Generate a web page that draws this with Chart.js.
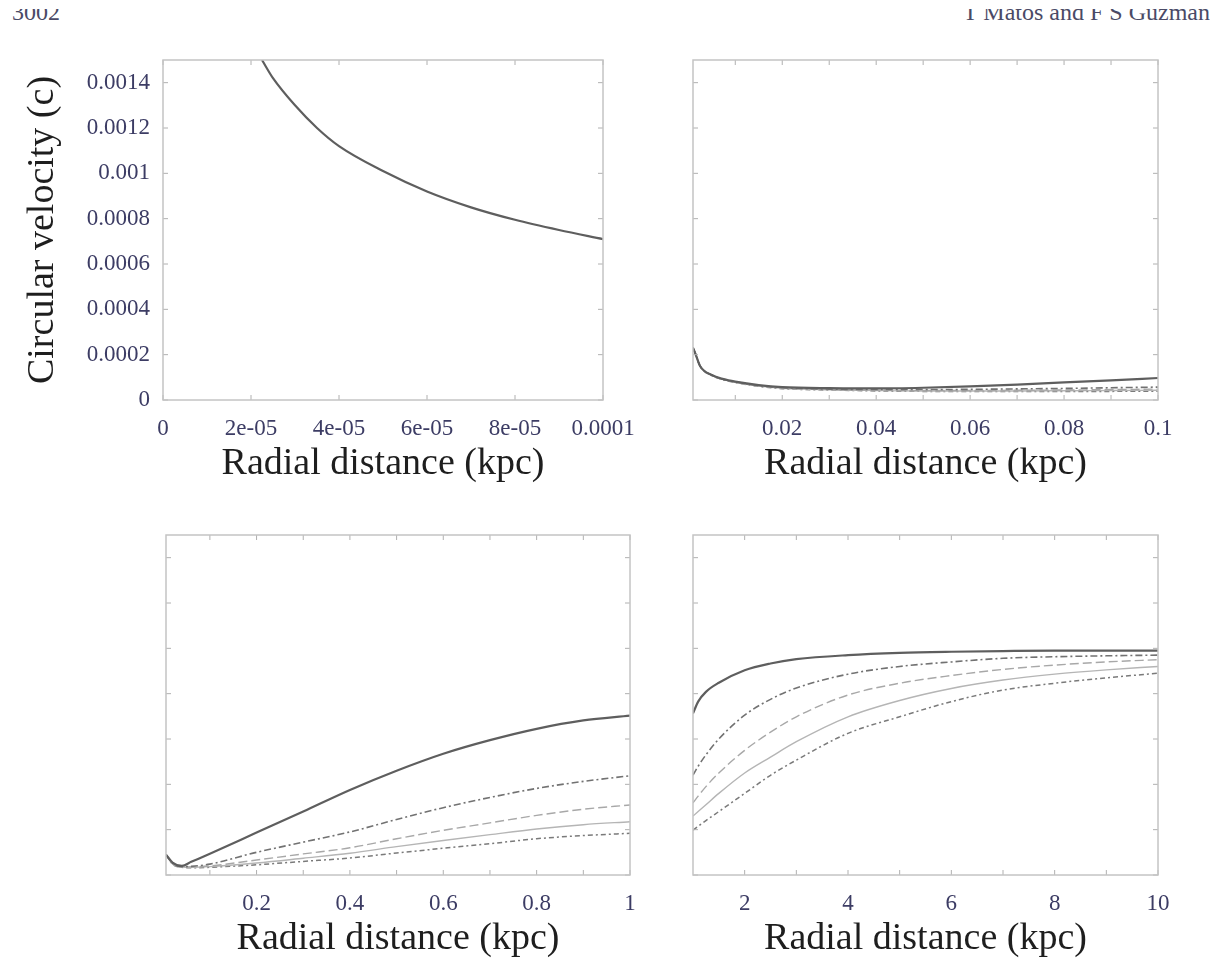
<!DOCTYPE html>
<html>
<head>
<meta charset="utf-8">
<title>Circular velocity vs radial distance</title>
<script src="https://cdn.jsdelivr.net/npm/chart.js@4.4.1/dist/chart.umd.min.js"></script>
<style>
body { margin: 0; background: #fff; width: 1215px; height: 964px; position: relative; overflow: hidden; }
canvas { position: absolute; }
.head { position: absolute; top: 9px; height: 11px; overflow: hidden; font-family: 'Liberation Serif', serif; font-size: 24px; color: #4a4a66; }
.head span { position: relative; top: -9px; display: block; line-height: 24px; white-space: nowrap; }
</style>
</head>
<body>
<div class="head" style="left:12px"><span>3002</span></div>
<div class="head" style="right:5px"><span>T Matos and F S Guzmán</span></div>

<canvas id="panel1" width="653" height="457" style="left:0px;top:30px"></canvas>
<canvas id="panel2" width="525" height="457" style="left:683px;top:30px"></canvas>
<canvas id="panel3" width="524" height="457" style="left:156px;top:505px"></canvas>
<canvas id="panel4" width="525" height="457" style="left:683px;top:505px"></canvas>

<script>
// shared y axis (circular velocity in units of c)
const yTicks = [0, 0.0002, 0.0004, 0.0006, 0.0008, 0.001, 0.0012, 0.0014];
const yLabels = ['0', '0.0002', '0.0004', '0.0006', '0.0008', '0.001', '0.0012', '0.0014'];

// panel 1: 0 - 1e-4 kpc
const p1Radius = [2.25e-5, 2.5e-5, 3e-5, 3.5e-5, 4e-5, 5e-5, 6e-5, 7e-5, 8e-5, 9e-5, 1e-4];
const p1Velocity = [0.00150, 0.00142, 0.00130, 0.00120, 0.00112, 0.00101, 0.00092, 0.00085, 0.000795, 0.00075, 0.00071];
const p1XTicks = [0, 2e-5, 4e-5, 6e-5, 8e-5, 1e-4];
const p1XLabels = ['0', '2e-05', '4e-05', '6e-05', '8e-05', '0.0001'];

// panel 2: up to 0.1 kpc
const p2Radius = [0.001, 0.0015, 0.0025, 0.005, 0.0075, 0.01, 0.015, 0.02, 0.03, 0.04, 0.05, 0.06, 0.07, 0.08, 0.09, 0.1];
const p2Line1 = [0.000230, 0.000205, 0.000150, 0.000110, 0.000092, 0.000081, 0.000066, 0.000057, 0.000052, 0.000051, 0.000054, 0.000060, 0.000068, 0.000078, 0.000087, 0.000097];
const p2Line2 = [0.000230, 0.000205, 0.000150, 0.000110, 0.000091, 0.000080, 0.000064, 0.000055, 0.000048, 0.000046, 0.000046, 0.000047, 0.000049, 0.000051, 0.000054, 0.000057];
const p2Line3 = [0.000230, 0.000205, 0.000150, 0.000109, 0.000090, 0.000079, 0.000063, 0.000053, 0.000046, 0.000043, 0.000042, 0.000042, 0.000043, 0.000044, 0.000046, 0.000048];
const p2Line4 = [0.000230, 0.000205, 0.000150, 0.000109, 0.000090, 0.000078, 0.000062, 0.000052, 0.000045, 0.000042, 0.000040, 0.000040, 0.000040, 0.000041, 0.000042, 0.000043];
const p2Line5 = [0.000230, 0.000205, 0.000150, 0.000108, 0.000089, 0.000077, 0.000060, 0.000050, 0.000044, 0.000040, 0.000038, 0.000037, 0.000037, 0.000037, 0.000038, 0.000039];
const p2XTicks = [0.01, 0.02, 0.03, 0.04, 0.05, 0.06, 0.07, 0.08, 0.09, 0.1];
const p2XLabels = ['', '0.02', '', '0.04', '', '0.06', '', '0.08', '', '0.1'];

// panel 3: up to 1 kpc
const p3Radius = [0.006, 0.02, 0.04, 0.06, 0.1, 0.2, 0.3, 0.4, 0.5, 0.6, 0.7, 0.8, 0.9, 1.0];
const p3Line1 = [0.00009, 0.000055, 0.00004, 0.000058, 0.000094, 0.000187, 0.00028, 0.000375, 0.00046, 0.000535, 0.000595, 0.000645, 0.000682, 0.000703];
const p3Line2 = [0.00009, 0.000052, 0.000037, 0.000038, 0.000048, 0.0001, 0.000145, 0.00019, 0.000245, 0.000297, 0.000342, 0.000382, 0.000413, 0.000438];
const p3Line3 = [0.00009, 0.00005, 0.000036, 0.000036, 0.00004, 0.000066, 0.000093, 0.00012, 0.00016, 0.000197, 0.00023, 0.000263, 0.00029, 0.000309];
const p3Line4 = [0.00009, 0.000049, 0.000035, 0.000034, 0.000037, 0.000053, 0.000074, 0.000096, 0.000125, 0.000152, 0.000178, 0.000203, 0.000222, 0.000235];
const p3Line5 = [0.00009, 0.000048, 0.000034, 0.000032, 0.000034, 0.000045, 0.00006, 0.000075, 0.000097, 0.000118, 0.000138, 0.00016, 0.000174, 0.000184];
const p3XTicks = [0.1, 0.2, 0.3, 0.4, 0.5, 0.6, 0.7, 0.8, 0.9, 1];
const p3XLabels = ['', '0.2', '', '0.4', '', '0.6', '', '0.8', '', '1'];

// panel 4: 1 - 10 kpc
const p4Radius = [1, 1.1, 1.25, 1.5, 2, 2.5, 3, 4, 5, 6, 7, 8, 9, 10];
const p4Line1 = [0.000713, 0.000765, 0.000808, 0.000848, 0.000903, 0.000933, 0.000952, 0.00097, 0.00098, 0.000985, 0.000988, 0.00099, 0.00099, 0.00099];
const p4Line2 = [0.000441, 0.00048, 0.00053, 0.0006, 0.000705, 0.000775, 0.000825, 0.000886, 0.00092, 0.00094, 0.000956, 0.000963, 0.000967, 0.00097];
const p4Line3 = [0.000318, 0.000348, 0.00039, 0.00045, 0.00055, 0.00063, 0.000698, 0.000794, 0.000846, 0.00088, 0.000907, 0.000926, 0.00094, 0.00095];
const p4Line4 = [0.00026, 0.00028, 0.00031, 0.00036, 0.00045, 0.00052, 0.000588, 0.000698, 0.00077, 0.000823, 0.00086, 0.000886, 0.000905, 0.00092];
const p4Line5 = [0.000198, 0.000215, 0.00024, 0.00028, 0.00036, 0.00044, 0.000507, 0.000625, 0.000698, 0.000765, 0.000816, 0.000846, 0.00087, 0.00089];
const p4XTicks = [2, 3, 4, 5, 6, 7, 8, 9, 10];
const p4XLabels = ['2', '', '4', '', '6', '', '8', '', '10'];

// gnuplot-like line types
const lineStyles = [
    { color: '#5e5e5e', width: 2.2, dash: [] },
    { color: '#727272', width: 1.6, dash: [7, 3, 2, 3] },
    { color: '#a8a8a8', width: 1.4, dash: [9, 4] },
    { color: '#b5b5b5', width: 1.4, dash: [] },
    { color: '#7a7a7a', width: 1.5, dash: [5, 3, 2, 3] }
];

Chart.defaults.font.family = "'Liberation Serif', 'Times New Roman', serif";
Chart.defaults.devicePixelRatio = 1;

// box with inward tick marks on all four sides
const framePlugin = {
    id: 'frame',
    afterDatasetsDraw(chart, args, opts) {
        const { ctx, chartArea: a, scales: { x, y } } = chart;
        ctx.save();
        ctx.strokeStyle = '#b0b0b0';
        ctx.lineWidth = 1;
        ctx.beginPath();
        opts.xTicks.forEach(v => {
            const px = x.getPixelForValue(v);
            ctx.moveTo(px, a.bottom); ctx.lineTo(px, a.bottom - 5);
            ctx.moveTo(px, a.top); ctx.lineTo(px, a.top + 5);
        });
        yTicks.forEach(v => {
            const py = y.getPixelForValue(v);
            ctx.moveTo(a.left, py); ctx.lineTo(a.left + 5, py);
            ctx.moveTo(a.right, py); ctx.lineTo(a.right - 5, py);
        });
        ctx.stroke();
        ctx.strokeStyle = '#c4c4c4';
        ctx.lineWidth = 1.5;
        ctx.strokeRect(a.left, a.top, a.width, a.height);
        ctx.restore();
    }
};

function makePanel(id, radius, series, xMin, xMax, xTicks, xLabels, showY) {
    const ctx = document.getElementById(id).getContext('2d');
    return new Chart(ctx, {
        type: 'line',
        data: {
            datasets: series.map((vals, i) => ({
                data: radius.map((r, j) => ({ x: r, y: vals[j] })),
                borderColor: lineStyles[i].color,
                borderWidth: lineStyles[i].width,
                borderDash: lineStyles[i].dash,
                pointRadius: 0,
                fill: false,
                cubicInterpolationMode: 'monotone'
            }))
        },
        options: {
            responsive: false,
            animation: false,
            layout: { padding: { left: showY ? 0 : 10, right: 50, top: 30, bottom: 0 } },
            plugins: {
                legend: { display: false },
                tooltip: { enabled: false },
                frame: { xTicks: xTicks }
            },
            scales: {
                x: {
                    type: 'linear',
                    min: xMin,
                    max: xMax,
                    afterBuildTicks: axis => { axis.ticks = xTicks.map(v => ({ value: v })); },
                    afterFit: axis => { axis.height = 87; },
                    grid: { display: false, drawTicks: false },
                    border: { display: false },
                    ticks: {
                        autoSkip: false,
                        maxRotation: 0,
                        padding: 15,
                        color: '#3c3c64',
                        font: { size: 23 },
                        callback: (v, i) => xLabels[i]
                    },
                    title: {
                        display: true,
                        text: 'Radial distance (kpc)',
                        color: '#1e1e1e',
                        font: { size: 38 },
                        padding: { top: 0, bottom: 0 }
                    }
                },
                y: {
                    type: 'linear',
                    display: showY,
                    min: 0,
                    max: 0.0015,
                    afterBuildTicks: axis => { axis.ticks = yTicks.map(v => ({ value: v })); },
                    afterFit: axis => { axis.width = showY ? 163 : 0; },
                    grid: { display: false, drawTicks: false },
                    border: { display: false },
                    ticks: {
                        padding: 13,
                        color: '#3c3c64',
                        font: { size: 23 },
                        callback: (v, i) => yLabels[i]
                    },
                    title: {
                        display: true,
                        text: 'Circular velocity (c)',
                        color: '#1e1e1e',
                        font: { size: 38 },
                        padding: { top: 20, bottom: 0 }
                    }
                }
            }
        },
        plugins: [framePlugin]
    });
}

const panel1 = makePanel('panel1', p1Radius, [p1Velocity], 0, 1e-4, p1XTicks, p1XLabels, true);
const panel2 = makePanel('panel2', p2Radius, [p2Line1, p2Line2, p2Line3, p2Line4, p2Line5], 0.001, 0.1, p2XTicks, p2XLabels, false);
const panel3 = makePanel('panel3', p3Radius, [p3Line1, p3Line2, p3Line3, p3Line4, p3Line5], 0.006, 1, p3XTicks, p3XLabels, false);
const panel4 = makePanel('panel4', p4Radius, [p4Line1, p4Line2, p4Line3, p4Line4, p4Line5], 1, 10, p4XTicks, p4XLabels, false);
</script>
</body>
</html>
